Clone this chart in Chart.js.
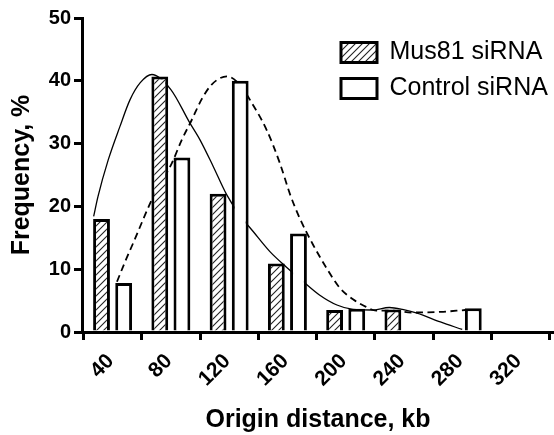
<!DOCTYPE html>
<html>
<head>
<meta charset="utf-8">
<script src="https://cdn.jsdelivr.net/npm/chart.js@4"></script>
<style>
  body { margin: 0; background: #fff; }
</style>
</head>
<body>
<canvas id="originChart" width="554" height="435"></canvas>
<script>
const binCenters = [40, 80, 120, 160, 200, 240, 280];
const mus81Freq = [18, 40.7, 22, 10.9, 3.5, 3.6, 0];
const controlFreq = [7.8, 27.8, 40, 15.7, 3.7, 0, 3.8];

// fitted curves
const mus81FitX = [27, 30, 37, 45, 52, 59, 67, 80, 93, 100, 109, 118, 127, 136.5, 148, 159, 171, 182, 194, 205, 218, 230, 239, 249, 265, 280];
const mus81FitY = [18.4, 21.6, 27.4, 32.7, 37.0, 39.7, 41.0, 38.6, 33.3, 30.6, 26.4, 22.0, 18.7, 16.0, 12.8, 10.4, 8.0, 5.9, 4.3, 3.6, 3.5, 3.9, 3.6, 3.0, 1.6, 0.4];
const controlFitX = [43, 48.6, 55.5, 61.3, 67, 80.7, 87.5, 94.4, 101, 108, 118.5, 127.3, 134.2, 145.7, 154.8, 162, 168.5, 177.6, 186.8, 196, 205, 214, 221, 233, 245, 265, 282];
const controlFitY = [8.0, 11.2, 14.9, 18.1, 21.1, 26.9, 30.6, 33.8, 37.0, 39.4, 40.7, 39.4, 37.0, 32.2, 26.9, 21.8, 18.1, 13.9, 10.2, 7.0, 5.2, 4.0, 3.4, 3.4, 3.1, 3.2, 3.5];

const xTicks = [40, 80, 120, 160, 200, 240, 280, 320];
const yTicks = [0, 10, 20, 30, 40, 50];
const seriesNames = ["Mus81 siRNA", "Control siRNA"];

const FONT = "'Liberation Sans', Arial, sans-serif";

function toPoints(xs, ys) {
  return xs.map((x, i) => ({ x, y: ys[i] }));
}

function hatchPattern(ctx) {
  const c = document.createElement("canvas");
  c.width = 7; c.height = 7;
  const g = c.getContext("2d");
  g.fillStyle = "#fff";
  g.fillRect(0, 0, 7, 7);
  g.strokeStyle = "#222";
  g.lineWidth = 1.1;
  g.beginPath();
  g.moveTo(-1, 8); g.lineTo(8, -1);
  g.moveTo(-4.5, 4.5); g.lineTo(4.5, -4.5);
  g.moveTo(2.5, 11.5); g.lineTo(11.5, 2.5);
  g.stroke();
  return ctx.createPattern(c, "repeat");
}

// put the legend in the top right corner of the plot
const legendSpot = {
  id: "legendSpot",
  afterLayout(chart) {
    chart.legend.left = 330;
    chart.legend.top = 29;
  }
};

const canvas = document.getElementById("originChart");
const ctx = canvas.getContext("2d");

new Chart(ctx, {
  type: "bar",
  data: {
    datasets: [
      {
        label: seriesNames[0],
        data: toPoints(binCenters, mus81Freq),
        backgroundColor: hatchPattern(ctx),
        borderColor: "#000",
        borderWidth: 3,
        categoryPercentage: 0.76,
        barPercentage: 0.76,
        order: 1
      },
      {
        label: seriesNames[1],
        data: toPoints(binCenters, controlFreq),
        backgroundColor: "#fff",
        borderColor: "#000",
        borderWidth: 3,
        categoryPercentage: 0.76,
        barPercentage: 0.76,
        order: 1
      },
      {
        type: "line",
        label: "Mus81 fit",
        data: toPoints(mus81FitX, mus81FitY),
        borderColor: "#000",
        borderWidth: 1.3,
        pointRadius: 0,
        cubicInterpolationMode: "monotone",
        order: 2
      },
      {
        type: "line",
        label: "Control fit",
        data: toPoints(controlFitX, controlFitY),
        borderColor: "#000",
        borderWidth: 1.8,
        borderDash: [7, 4.5],
        pointRadius: 0,
        cubicInterpolationMode: "monotone",
        order: 2
      }
    ]
  },
  options: {
    responsive: false,
    maintainAspectRatio: false,
    animation: false,
    layout: { padding: { top: 18, right: 0, bottom: 0, left: 0 } },
    plugins: {
      tooltip: { enabled: false },
      legend: {
        position: "chartArea",
        align: "start",
        labels: {
          filter: item => item.datasetIndex < 2,
          boxWidth: 36,
          boxHeight: 20,
          padding: 11,
          color: "#000",
          font: { family: FONT, size: 25 }
        }
      }
    },
    scales: {
      x: {
        type: "linear",
        min: 19,
        max: 343,
        offset: false,
        afterBuildTicks: s => { s.ticks = xTicks.map(v => ({ value: v })); },
        afterFit: s => { s.height = 103; },
        border: { display: true, color: "#000", width: 3 },
        grid: { display: true, drawOnChartArea: false, color: "#000", lineWidth: 3, tickLength: 8 },
        ticks: {
          autoSkip: false,
          minRotation: 45,
          maxRotation: 45,
          labelOffset: -2,
          padding: 9,
          color: "#000",
          font: { family: FONT, size: 21, weight: "bold" }
        },
        title: {
          display: true,
          text: "Origin distance, kb",
          color: "#000",
          padding: { top: 0, bottom: 0 },
          font: { family: FONT, size: 25, weight: "bold" }
        }
      },
      y: {
        min: 0,
        max: 50,
        afterBuildTicks: s => { s.ticks = yTicks.map(v => ({ value: v })); },
        afterFit: s => { s.width = 82; },
        border: { display: true, color: "#000", width: 3 },
        grid: { display: true, drawOnChartArea: false, color: "#000", lineWidth: 3, tickLength: 8 },
        ticks: {
          padding: 3,
          color: "#000",
          font: { family: FONT, size: 20, weight: "bold" }
        },
        title: {
          display: true,
          text: "Frequency, %",
          color: "#000",
          padding: { top: 7, bottom: 0 },
          font: { family: FONT, size: 25, weight: "bold" }
        }
      }
    }
  },
  plugins: [legendSpot]
});
</script>
</body>
</html>
